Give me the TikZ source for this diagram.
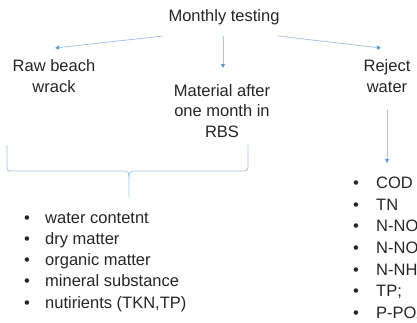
\documentclass[tikz,border=0pt]{standalone}
\usepackage{fontspec}
\setmainfont{Liberation Sans}
\usetikzlibrary{arrows.meta}
\definecolor{lineblue}{RGB}{165,197,232}
\definecolor{tipblue}{RGB}{91,155,213}
\definecolor{txt}{RGB}{38,38,38}
\begin{document}
\begin{tikzpicture}[x=1pt,y=-1pt,
  lbl/.style={text=txt,font=\fontsize{16.5}{20.5}\selectfont,align=center,inner sep=0pt},
  lstl/.style={text=txt,font=\fontsize{16.5}{21.2}\selectfont,align=left,inner sep=0pt,anchor=north west},
  lstr/.style={text=txt,font=\fontsize{16.5}{21.6}\selectfont,align=left,inner sep=0pt,anchor=north west},
  conn/.style={draw=lineblue,line width=0.8pt,-{Triangle[length=4pt,width=4pt,color=tipblue]}},
  bracestyle/.style={draw=lineblue,line width=0.8pt}]
\useasboundingbox (0,0) rectangle (417,322);
\fill[white] (0,0) rectangle (417,322);
\node[lbl] (top) at (224,17) {Monthly testing};
\node[lbl] (raw) at (54,76) {Raw beach\\wrack};
\node[lbl] (mat) at (222,111) {Material after\\one month in\\RBS};
\node[lbl] (rej) at (387,76) {Reject\\water};
\coordinate (tl) at (163,36);
\coordinate (tm) at (223,36);
\coordinate (tr) at (278,36);
\coordinate (el) at (55,48);
\coordinate (em) at (223,68);
\coordinate (er) at (381,48);
\coordinate (rs) at (387,110);
\coordinate (re) at (387,163);
\draw[conn] (tl) -- (el);
\draw[conn] (tm) -- (em);
\draw[conn] (tr) -- (er);
\draw[conn] (rs) -- (re);
% brace
\coordinate (bl) at (7,145);
\coordinate (br) at (248,145);
\coordinate (btip) at (129,197);
\draw[bracestyle] (bl) -- (7,167) .. controls (7,170) and (8,171) .. (11,171) -- (124,171)
  .. controls (127.5,171) and (129,172) .. (129,177) -- (btip);
\draw[bracestyle] (br) -- (248,167) .. controls (248,170) and (247,171) .. (244,171) -- (134,171)
  .. controls (130.5,171) and (129,172) .. (129,177);
\node[lstl] (leftlist) at (22,212.5) {%
\makebox[23pt][l]{\hspace{2pt}\textbullet}water contetnt\\
\makebox[23pt][l]{\hspace{2pt}\textbullet}dry matter\\
\makebox[23pt][l]{\hspace{2pt}\textbullet}organic matter\\
\makebox[23pt][l]{\hspace{2pt}\textbullet}mineral substance\\
\makebox[23pt][l]{\hspace{2pt}\textbullet}nutirients (TKN,TP)};
\node[lstr] (rightlist) at (351,177) {%
\makebox[25pt][l]{\hspace{2pt}\textbullet}COD\\
\makebox[25pt][l]{\hspace{2pt}\textbullet}TN\\
\makebox[25pt][l]{\hspace{2pt}\textbullet}N-NO\textsubscript{3}\\
\makebox[25pt][l]{\hspace{2pt}\textbullet}N-NO\textsubscript{2}\\
\makebox[25pt][l]{\hspace{2pt}\textbullet}N-NH\textsubscript{4}\\
\makebox[25pt][l]{\hspace{2pt}\textbullet}TP;\\
\makebox[25pt][l]{\hspace{2pt}\textbullet}P-PO\textsubscript{4}};
\end{tikzpicture}
\end{document}
